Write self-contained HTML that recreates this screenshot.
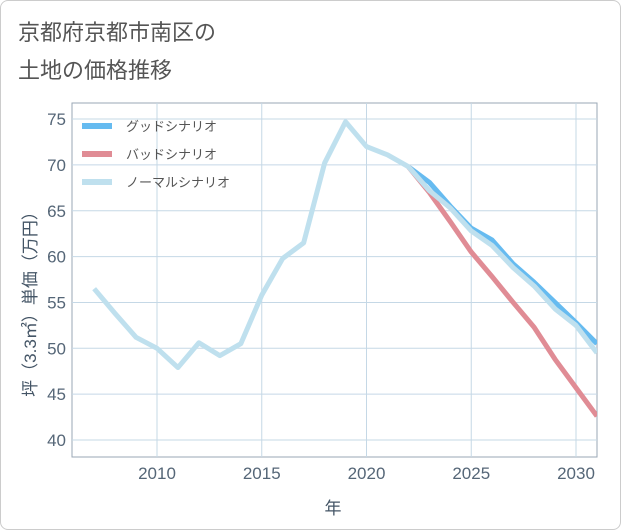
<!DOCTYPE html>
<html><head><meta charset="utf-8"><style>
body{margin:0;background:#fff;font-family:"Liberation Sans","Noto Sans CJK JP",sans-serif;}
#wrap{position:relative;width:619px;height:528px;border:1px solid #ccc;border-radius:8px;overflow:hidden;}
</style></head><body>
<div id="wrap">
<svg id="chart" width="621" height="530" style="position:absolute;left:-1px;top:-1px">
<text x="18" y="40" font-size="22" fill="#555">京都府京都市南区の</text>
<text x="18" y="78" font-size="22" fill="#555">土地の価格推移</text>
<g id="grid"></g><g id="series"></g><g id="axes"></g>
<text transform="translate(36,300) rotate(-90)" text-anchor="middle" font-size="17" fill="#456">坪（3.3㎡）単価（万円）</text>
<text x="333" y="514" text-anchor="middle" font-size="17" fill="#456">年</text>
</svg></div>
<script>
const years=[2007,2008,2009,2010,2011,2012,2013,2014,2015,2016,2017,2018,2019,2020,2021,2022,2023,2024,2025,2026,2027,2028,2029,2030,2031];
const normal=[56.5,53.8,51.2,50,47.9,50.6,49.2,50.5,55.8,59.8,61.5,70.2,74.7,72,71.1,69.8,67.2,65.3,62.8,61.2,58.8,56.8,54.3,52.5,49.5];
const goodYears=[2022,2023,2024,2025,2026,2027,2028,2029,2030,2031];
const good=[69.8,68.1,65.5,63.1,61.8,59.2,57.2,55,52.8,50.5];
const bad=[69.8,67.0,63.8,60.5,57.8,55,52.3,48.8,45.7,42.6];
const yTicks=[40,45,50,55,60,65,70,75];
const xTicks=[2010,2015,2020,2025,2030];
const legendLabels=["グッドシナリオ","バッドシナリオ","ノーマルシナリオ"];
const colors=["#66bbf0","#e08c95","#bfe0ee"];
const L=72,R=597,T=103,B=457;
const X=y=>157+(y-2010)*20.95;
const Y=v=>440-(v-40)*9.17;
const NS="http://www.w3.org/2000/svg";
function mk(tag,attrs,parent){const e=document.createElementNS(NS,tag);for(const k in attrs)e.setAttribute(k,attrs[k]);parent.appendChild(e);return e;}
const grid=document.getElementById('grid'),axes=document.getElementById('axes'),ser=document.getElementById('series');
mk('rect',{x:L,y:T,width:R-L,height:B-T,fill:'#fff',stroke:'#9aa7b5'},grid);
yTicks.forEach(v=>{const l=mk('line',{x1:L,x2:R,y1:Y(v),y2:Y(v),stroke:'#c5d8e6'},grid);

const t=mk('text',{x:L-6,y:Y(v)+6,'text-anchor':'end','font-size':17,fill:'#567'},axes);t.textContent=v;
});
xTicks.forEach(v=>{const l=mk('line',{x1:X(v),x2:X(v),y1:T,y2:B,stroke:'#c5d8e6'},grid);

const t=mk('text',{x:X(v),y:B+22,'text-anchor':'middle','font-size':17,fill:'#567'},axes);t.textContent=v;
});
function line(xs,vs,c,name){const p=mk('polyline',{points:xs.map((y,i)=>X(y)+','+Y(vs[i])).join(' '),fill:'none',stroke:c,'stroke-width':5,'stroke-linejoin':'round'},ser);
}
const clip=mk('clipPath',{id:'cp'},ser);mk('rect',{x:L,y:T,width:R-L,height:B-T},clip);ser.setAttribute('clip-path','url(#cp)');
line(goodYears,good,colors[0],'good-scenario-line');
line(goodYears,bad,colors[1],'bad-scenario-line');
line(years,normal,colors[2],'normal-scenario-line');
legendLabels.forEach((s,i)=>{const y=126+i*28;
const g=mk('g',{},axes);
mk('line',{x1:82,x2:112,y1:y,y2:y,stroke:colors[i],'stroke-width':6},g);
const t=mk('text',{x:126,y:y+5,'font-size':13,fill:'#555'},g);t.textContent=s;});
</script></body></html>
